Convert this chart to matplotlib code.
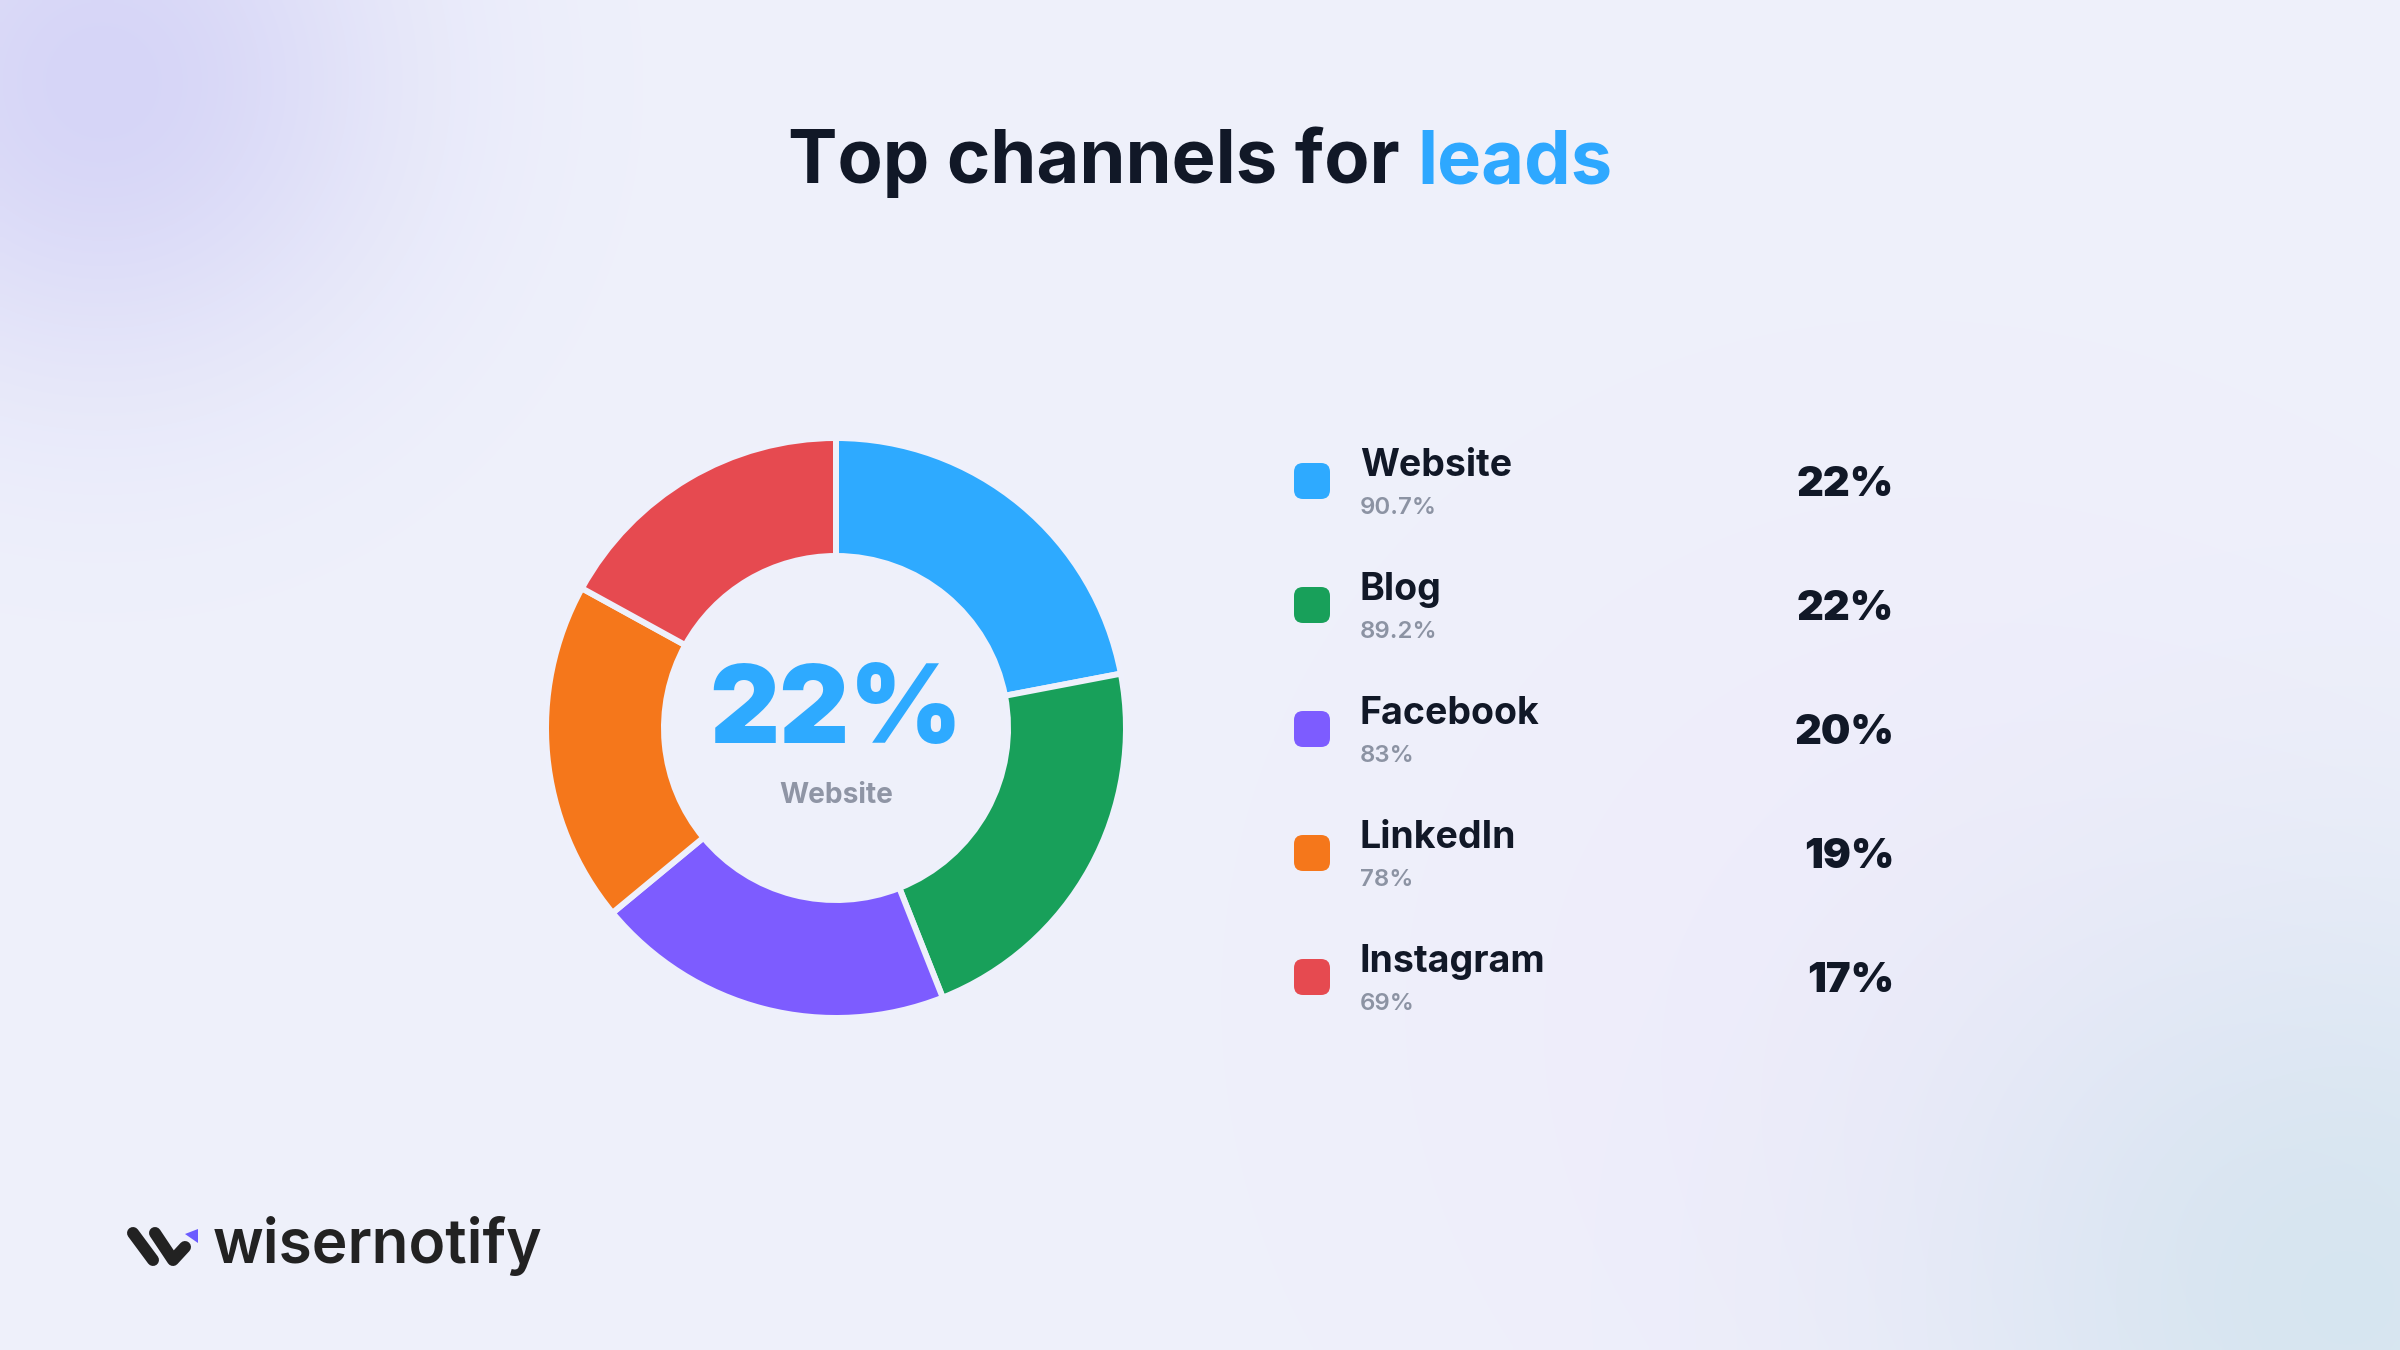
import numpy as np
import matplotlib
matplotlib.use("Agg")
import matplotlib.pyplot as plt
from matplotlib.patches import FancyBboxPatch, Polygon

# data
channels = ["Website", "Blog", "Facebook", "LinkedIn", "Instagram"]
shares = [22, 22, 20, 19, 17]
sub_values = ["90.7%", "89.2%", "83%", "78%", "69%"]
colors = ["#2EAAFF", "#18A05A", "#7D5CFF", "#F5771B", "#E64A50"]

W, H = 2400, 1350
plt.rcParams['font.family'] = ['Inter', 'DejaVu Sans']

fig = plt.figure(figsize=(16, 9), dpi=150)
ax = fig.add_axes([0, 0, 1, 1])

def Y(y):
    # pixel row (top = 0) -> data y
    return H - y

# ---- background with soft colour blobs
gx, gy = np.meshgrid(np.linspace(0, W, 480), np.linspace(0, H, 270))
base = np.array([0xEF, 0xF1, 0xFB]) / 255.0
img = np.ones((270, 480, 3)) * base
def blob(cx, cy, s, col, k):
    g = np.exp(-((gx - cx) ** 2 + (gy - cy) ** 2) / (2 * s ** 2)) * k
    return g[..., None] * (np.array(col) / 255.0 - base)
img += blob(100, 80, 210, [0xD6, 0xD5, 0xF7], 1.0)
img += blob(2350, 1300, 300, [0xD4, 0xE6, 0xEF], 0.9)
img += blob(1900, 1000, 400, [0xEF, 0xEA, 0xFB], 0.6)
ax.imshow(np.clip(img, 0, 1), extent=[0, W, 0, H], origin="upper",
          interpolation="bilinear", aspect="auto", zorder=0)

# ---- donut
cx, cy = 836, 728
gap_px = 6
lw = gap_px * 72 / 150
ax.pie(shares, colors=colors, startangle=90, counterclock=False,
       center=(cx, Y(cy)), radius=287 + gap_px / 2,
       wedgeprops=dict(width=112 + gap_px, edgecolor="#EEF0FB", linewidth=lw))

ax.set_xlim(0, W)
ax.set_ylim(0, H)
ax.set_aspect("auto")
ax.axis("off")

ax.text(cx, Y(743), "22%", ha="center", va="baseline", fontsize=52,
        fontweight="black", color="#2EAAFF")
ax.text(cx, Y(803), "Website", ha="center", va="baseline", fontsize=13.5,
        fontweight="bold", color="#8F95A5")

# ---- title, two colours
fig.canvas.draw()
r = fig.canvas.get_renderer()
t1 = ax.text(0, Y(183), "Top channels for ", ha="left", va="baseline",
             fontsize=35.5, fontweight="bold", color="#111827")
t2 = ax.text(0, Y(183), "leads", ha="left", va="baseline",
             fontsize=35.5, fontweight="bold", color="#2EA8FF")
w1 = t1.get_window_extent(r).width
w2 = t2.get_window_extent(r).width
x0 = W / 2 - (w1 + w2) / 2
t1.set_x(x0)
t2.set_x(x0 + w1)

# ---- legend rows
for i, (name, sub, val, col) in enumerate(zip(channels, sub_values, shares, colors)):
    yc = 481 + 124 * i
    ax.add_patch(FancyBboxPatch((1294, Y(yc) - 18), 36, 36,
                                boxstyle="round,pad=0,rounding_size=9",
                                facecolor=col, edgecolor="none"))
    ax.text(1360, Y(yc - 5), name, ha="left", va="baseline", fontsize=18,
            fontweight="bold", color="#111827")
    ax.text(1360, Y(yc + 33), sub, ha="left", va="baseline", fontsize=11.5,
            fontweight="semibold", color="#8C93A3")
    ax.text(1894, Y(yc + 15), f"{val}%", ha="right", va="baseline", fontsize=20,
            fontweight="black", color="#111827")

# ---- logo
ax.plot([133, 153], [Y(1233), Y(1260)], color="#222222", lw=12 * 72 / 150,
        solid_capstyle="round")
ax.plot([155, 173, 185], [Y(1233), Y(1260), Y(1247)], color="#222222",
        lw=12 * 72 / 150, solid_capstyle="round", solid_joinstyle="round")
ax.add_patch(Polygon([(185, Y(1234)), (198, Y(1229)), (198, Y(1243))],
                     closed=True, facecolor="#6B5BFF", edgecolor="none"))
ax.text(213, Y(1263), "wisernotify", ha="left", va="baseline", fontsize=29,
        fontweight="semibold", color="#222222")

fig.savefig("out.png", dpi=150)
